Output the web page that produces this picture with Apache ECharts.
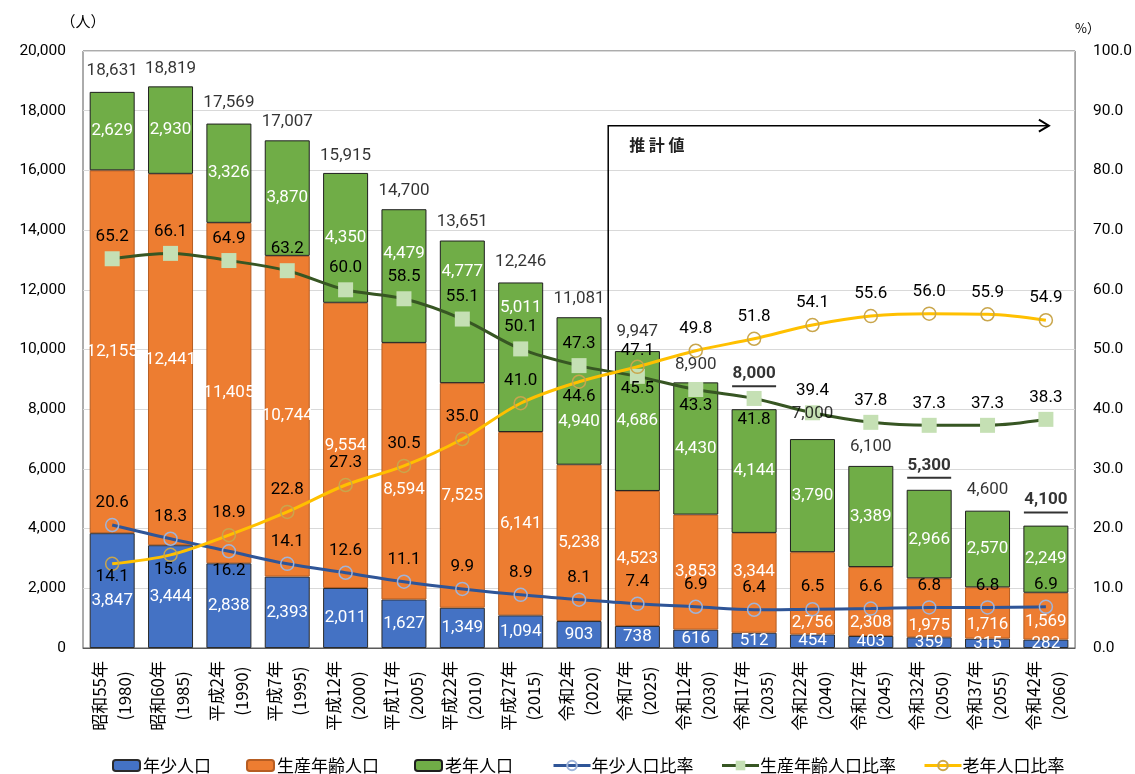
<!DOCTYPE html>
<html>
<head>
<meta charset="utf-8">
<script src="https://cdn.jsdelivr.net/npm/echarts@6/dist/echarts.min.js"></script>
<style>
  html, body { margin: 0; padding: 0; background: #fff; }
  #chart { width: 1135px; height: 774px; }
</style>
</head>
<body>
<div id="chart"></div>
<script>
// Categories: era-based year name and western year
const eraLabels = ['昭和55年', '昭和60年', '平成2年', '平成7年', '平成12年', '平成17年', '平成22年', '平成27年', '令和2年',
  '令和7年', '令和12年', '令和17年', '令和22年', '令和27年', '令和32年', '令和37年', '令和42年'];
const yearLabels = ['1980', '1985', '1990', '1995', '2000', '2005', '2010', '2015', '2020',
  '2025', '2030', '2035', '2040', '2045', '2050', '2055', '2060'];

// Population (persons)
const youngPop = [3847, 3444, 2838, 2393, 2011, 1627, 1349, 1094, 903, 738, 616, 512, 454, 403, 359, 315, 282];
const workingPop = [12155, 12441, 11405, 10744, 9554, 8594, 7525, 6141, 5238, 4523, 3853, 3344, 2756, 2308, 1975, 1716, 1569];
const elderlyPop = [2629, 2930, 3326, 3870, 4350, 4479, 4777, 5011, 4940, 4686, 4430, 4144, 3790, 3389, 2966, 2570, 2249];
const totalPop = [18631, 18819, 17569, 17007, 15915, 14700, 13651, 12246, 11081, 9947, 8900, 8000, 7000, 6100, 5300, 4600, 4100];

// Shares of total population (%)
const youngRatio = [20.6, 18.3, 16.2, 14.1, 12.6, 11.1, 9.9, 8.9, 8.1, 7.4, 6.9, 6.4, 6.5, 6.6, 6.8, 6.8, 6.9];
const workingRatio = [65.2, 66.1, 64.9, 63.2, 60.0, 58.5, 55.1, 50.1, 47.3, 45.5, 43.3, 41.8, 39.4, 37.8, 37.3, 37.3, 38.3];
const elderlyRatio = [14.1, 15.6, 18.9, 22.8, 27.3, 30.5, 35.0, 41.0, 44.6, 47.1, 49.8, 51.8, 54.1, 55.6, 56.0, 55.9, 54.9];

// Axis ticks
const leftTicks = { min: 0, max: 20000, step: 2000 };
const rightTicks = { min: 0, max: 100, step: 10 };

// Index of the first projected year and years whose totals are emphasised
const firstProjected = 9;
const emphasisedTotals = [11, 14, 16];

// Vertical label nudges (px) so labels avoid the lines
const nudges = {
  young: { d: 0, at: { 0: 10 } },
  working: { d: 0, at: { 5: 19, 11: -11, 12: 29, 13: 21, 14: 18, 15: 12, 16: 6 } },
  elderly: { d: 0, at: { 5: -22, 6: -40, 7: -49, 8: 31, 14: 6 } },
  total: { d: -19, at: { 0: -21, 1: -18, 2: -21, 4: -17, 5: -18, 7: -21, 8: -18, 10: -18, 11: -34, 12: -25, 14: -23, 15: -21, 16: -24 } },
  youngRatio: { d: -22, at: { 2: 19 } },
  workingRatio: { d: -22, at: { 9: 12, 10: 16, 11: 21 } },
  elderlyRatio: { d: -22, at: { 0: 13, 1: 15, 8: 15, 9: -16 } }
};
const nudge = (k, i) => (nudges[k].at[i] !== undefined ? nudges[k].at[i] : nudges[k].d);

const NUM_FONT = 'Roboto, "Noto Sans", sans-serif';
const JP_FONT = '"Noto Sans CJK JP", "Noto Sans", sans-serif';
const LABEL_SIZE = 17;
const fmtInt = v => Number(v).toLocaleString('en-US');

const chart = echarts.init(document.getElementById('chart'));

function barSeries(name, values, key, color, border) {
  return {
    name, type: 'bar', stack: 'pop', yAxisIndex: 0, barWidth: 45, z: 2,
    itemStyle: { color, borderColor: border, borderWidth: 1 },
    label: {
      show: true, position: 'inside', color: '#fff', fontSize: LABEL_SIZE, fontFamily: NUM_FONT,
      formatter: p => fmtInt(p.value)
    },
    data: values.map((v, i) => ({ value: v, label: { offset: [0, nudge(key, i)] } }))
  };
}

function ratioSeries(name, values, key, lineColor, symbol, symbolSize, itemStyle) {
  return {
    name, type: 'line', yAxisIndex: 1, z: 4, smooth: 0.35,
    symbol, symbolSize, showAllSymbol: true,
    lineStyle: { color: lineColor, width: 3 },
    itemStyle,
    label: {
      show: true, position: 'inside', color: '#000', fontSize: LABEL_SIZE, fontFamily: NUM_FONT,
      formatter: p => Number(p.value).toFixed(1)
    },
    data: values.map((v, i) => ({ value: v, label: { offset: [0, nudge(key, i)] } }))
  };
}

const option = {
  animation: false,
  backgroundColor: '#fff',
  textStyle: { fontFamily: NUM_FONT },
  grid: { left: 83, right: 57, top: 51, bottom: 126, show: true, borderColor: '#595959', borderWidth: 1, containLabel: false },
  legend: [
    {
      data: ['年少人口', '生産年齢人口', '老年人口'],
      left: 107, top: 752, itemWidth: 27, itemHeight: 11, itemGap: 35,
      textStyle: { fontSize: 17, fontFamily: JP_FONT, color: '#000', padding: [0, 0, 0, -2] }
    },
    {
      data: ['年少人口比率', '生産年齢人口比率', '老年人口比率'],
      left: 547, top: 752, itemWidth: 37, itemHeight: 12, itemGap: 27,
      lineStyle: { width: 3 },
      textStyle: { fontSize: 17, fontFamily: JP_FONT, color: '#000', padding: [0, 0, 0, -4] }
    }
  ],
  xAxis: {
    type: 'category',
    data: yearLabels,
    axisLine: { show: true, lineStyle: { color: '#595959' } },
    axisTick: { show: false },
    axisLabel: {
      interval: 0, rotate: 90, margin: 13,
      formatter: (v, i) => `{a|${eraLabels[i]}}\n{a|(${yearLabels[i]})}`,
      rich: { a: { fontSize: 17, fontFamily: JP_FONT, color: '#000', lineHeight: 25, align: 'center' } }
    }
  },
  yAxis: [
    {
      type: 'value', min: leftTicks.min, max: leftTicks.max, interval: leftTicks.step,
      name: '（人）', nameLocation: 'end', nameGap: 22,
      nameTextStyle: { fontSize: 15, fontFamily: JP_FONT, color: '#000', align: 'center' },
      axisLine: { show: false }, axisTick: { show: false },
      axisLabel: { margin: 17, fontSize: 15.5, color: '#000', fontFamily: NUM_FONT, formatter: v => fmtInt(v) },
      splitLine: { show: true, lineStyle: { color: '#d9d9d9', width: 1 } }
    },
    {
      type: 'value', min: rightTicks.min, max: rightTicks.max, interval: rightTicks.step,
      name: '%）', nameLocation: 'end', nameGap: 16,
      nameTextStyle: { fontSize: 13, fontFamily: JP_FONT, color: '#000', align: 'left', padding: [0, 0, 0, 0] },
      axisLine: { show: false }, axisTick: { show: false },
      axisLabel: { margin: 18, fontSize: 15.5, color: '#000', fontFamily: NUM_FONT, formatter: v => v.toFixed(1) },
      splitLine: { show: false }
    }
  ],
  series: [
    barSeries('年少人口', youngPop, 'young', '#4472c4', '#2b2b2b'),
    barSeries('生産年齢人口', workingPop, 'working', '#ed7d31', '#b65d22'),
    barSeries('老年人口', elderlyPop, 'elderly', '#70ad47', '#1f1f1f'),
    {
      name: 'total', type: 'scatter', yAxisIndex: 0, z: 5, symbolSize: 1,
      itemStyle: { color: 'rgba(0,0,0,0)' }, silent: true,
      label: {
        show: true, position: 'inside', color: '#000', fontSize: LABEL_SIZE, fontFamily: NUM_FONT,
        formatter: p => emphasisedTotals.includes(p.dataIndex) ? `{b|${fmtInt(p.value)}}\n{u| }` : fmtInt(p.value),
        rich: {
          b: { fontSize: LABEL_SIZE, fontWeight: 'bold', fontFamily: NUM_FONT, color: '#000', lineHeight: 22, align: 'center' },
          u: { width: 44, height: 2, lineHeight: 3, fontSize: 1, backgroundColor: '#000', align: 'center' }
        }
      },
      data: totalPop.map((v, i) => ({ value: v, label: { offset: [0, nudge('total', i)] } }))
    },
    ratioSeries('年少人口比率', youngRatio, 'youngRatio', '#2f5597', 'circle', 13,
      { color: 'rgba(255,255,255,0)', borderColor: '#9fb4da', borderWidth: 1.5 }),
    ratioSeries('生産年齢人口比率', workingRatio, 'workingRatio', '#375623', 'rect', 15,
      { color: '#c5e0b4', borderWidth: 0 }),
    ratioSeries('老年人口比率', elderlyRatio, 'elderlyRatio', '#ffc000', 'circle', 13,
      { color: 'rgba(255,255,255,0)', borderColor: '#c9a64c', borderWidth: 1.5 })
  ]
};

chart.setOption(option);

// Bracket marking the projected years, placed from the axes' own scales
const xPrev = chart.convertToPixel({ xAxisIndex: 0 }, firstProjected - 1);
const xNext = chart.convertToPixel({ xAxisIndex: 0 }, firstProjected);
const xSplit = (xPrev + xNext) / 2;
const xEnd = chart.convertToPixel({ xAxisIndex: 0 }, yearLabels.length - 1) + 3;
const yTop = chart.convertToPixel({ yAxisIndex: 0 }, 17500);
const yBase = chart.convertToPixel({ yAxisIndex: 0 }, 0);

chart.setOption({
  graphic: [
    {
      type: 'polyline', z: 3, silent: true,
      shape: { points: [[xSplit, yBase], [xSplit, yTop], [xEnd, yTop]] },
      style: { stroke: '#000', lineWidth: 1.5, fill: null }
    },
    {
      type: 'polyline', z: 3, silent: true,
      shape: { points: [[xEnd - 10, yTop - 6], [xEnd, yTop], [xEnd - 10, yTop + 6]] },
      style: { stroke: '#000', lineWidth: 2, fill: null }
    },
    {
      type: 'text', z: 3, silent: true,
      x: xSplit + 21, y: yTop + 19,
      style: { text: '推 計 値', fontSize: 16, fontWeight: 'bold', fontFamily: JP_FONT, fill: '#222', verticalAlign: 'middle' }
    }
  ]
});
</script>
</body>
</html>
